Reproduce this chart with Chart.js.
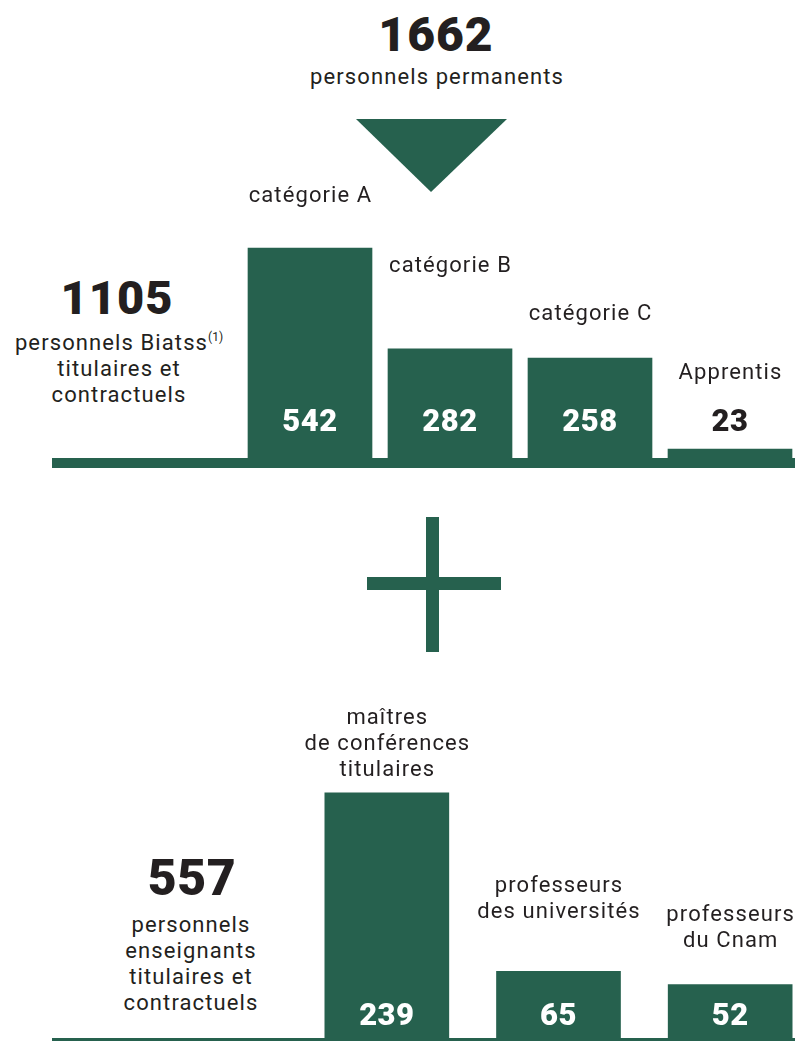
<!DOCTYPE html>
<html lang="fr">
<head>
<meta charset="utf-8">
<script src="https://cdn.jsdelivr.net/npm/chart.js@4"></script>
<style>
    html, body { margin: 0; padding: 0; background: #fff; }
    body { width: 795px; height: 1041px; position: relative; overflow: hidden; font-family: Roboto, "Liberation Sans", sans-serif; color: #231f20; }
    .txt { position: absolute; text-align: center; font-size: 22px; letter-spacing: 1.1px; line-height: 26px; }
    .big { position: absolute; text-align: center; font-weight: 900; font-size: 48px; line-height: 50px; letter-spacing: 1px; }
    .green { position: absolute; background: #26614e; }
    sup { font-size: 12px; vertical-align: 9px; letter-spacing: 0; }
    canvas { position: absolute; }
</style>
</head>
<body>

<div class="big" id="total-all" style="left:286px; top:10px; width:300px;"></div>
<div class="txt" style="left:287px; top:64px; width:300px;">personnels permanents</div>

<svg style="position:absolute; left:0; top:0;" width="795" height="200">
    <polygon points="356,119 507,119 431,192" fill="#26614e"></polygon>
</svg>

<div class="big" id="total-biatss" style="left:-33px; top:273px; width:300px; font-size:47px;"></div>
<div class="txt" style="left:-31px; top:324px; width:300px;">personnels Biatss<sup>(1)</sup><br>titulaires et<br>contractuels</div>

<canvas id="biatssChart" width="560" height="308" style="left:240px; top:150px;"></canvas>
<div class="green" style="left:52px; top:458px; width:743px; height:10px;"></div>

<div class="green" style="left:426px; top:517px; width:13px; height:135px;"></div>
<div class="green" style="left:367px; top:577px; width:134px; height:13px;"></div>

<div class="big" id="total-ens" style="left:42px; top:853px; width:300px; font-size:50px; letter-spacing:0.5px;"></div>
<div class="txt" style="left:41px; top:912px; width:300px;">personnels<br>enseignants<br>titulaires et<br>contractuels</div>

<canvas id="ensChart" width="515" height="358" style="left:301px; top:680px;"></canvas>
<div class="green" style="left:52px; top:1038px; width:743px; height:4px;"></div>

<script>
// Totals
const totalPermanents = 1662;
const totalBiatss = 1105;
const totalEnseignants = 557;

// Biatss staff by category
const biatssCategories = ['catégorie A', 'catégorie B', 'catégorie C', 'Apprentis'];
const biatssValues = [542, 282, 258, 23];

// Teaching staff by corps
const ensCategories = [['maîtres', 'de conférences', 'titulaires'], ['professeurs', 'des universités'], ['professeurs', 'du Cnam']];
const ensValues = [239, 65, 52];

const GREEN = '#26614e';
const INK = '#231f20';

document.getElementById('total-all').innerText = totalPermanents;
document.getElementById('total-biatss').innerText = totalBiatss;
document.getElementById('total-ens').innerText = totalEnseignants;

// draws category names at fixed heights and the values near the foot of each bar
const barText = {
    id: 'barText',
    afterDatasetsDraw(chart, args, opts) {
        const ctx = chart.ctx;
        const meta = chart.getDatasetMeta(0);
        const base = chart.scales.y.getPixelForValue(0);
        ctx.save();
        ctx.textAlign = 'center';
        ctx.textBaseline = 'middle';
        meta.data.forEach((bar, i) => {
            // category name
            ctx.font = '22px Roboto, "Liberation Sans", sans-serif';
            ctx.fillStyle = INK;
            if ('letterSpacing' in ctx) ctx.letterSpacing = '1.1px';
            let lines = chart.data.labels[i];
            if (!Array.isArray(lines)) lines = [lines];
            lines.forEach((ln, j) => ctx.fillText(ln, bar.x + 0.5, opts.labelY[i] + j * 26));
            // value
            const h = base - bar.y;
            ctx.font = '900 31px Roboto, "Liberation Sans", sans-serif';
            if ('letterSpacing' in ctx) ctx.letterSpacing = '0.5px';
            ctx.fillStyle = h > opts.valueOffset + 18 ? '#ffffff' : INK;
            ctx.fillText(chart.data.datasets[0].data[i], bar.x, base - opts.valueOffset);
        });
        ctx.restore();
    }
};

function makeChart(id, labels, values, yMax, labelY, valueOffset) {
    return new Chart(document.getElementById(id), {
        type: 'bar',
        data: {
            labels: labels,
            datasets: [{
                data: values,
                backgroundColor: GREEN,
                borderWidth: 0,
                barThickness: 124
            }]
        },
        options: {
            responsive: false,
            animation: false,
            layout: { padding: 0 },
            plugins: {
                legend: { display: false },
                tooltip: { enabled: false },
                barText: { labelY: labelY, valueOffset: valueOffset }
            },
            scales: {
                x: { display: false, grid: { display: false } },
                y: { display: false, min: 0, max: yMax, grid: { display: false } }
            }
        },
        plugins: [barText]
    });
}

makeChart('biatssChart', biatssCategories, biatssValues, 795, [46, 116, 164, 223], 35);
makeChart('ensChart', ensCategories, ensValues, 349, [38, 206, 235], 21);
</script>
</body>
</html>
